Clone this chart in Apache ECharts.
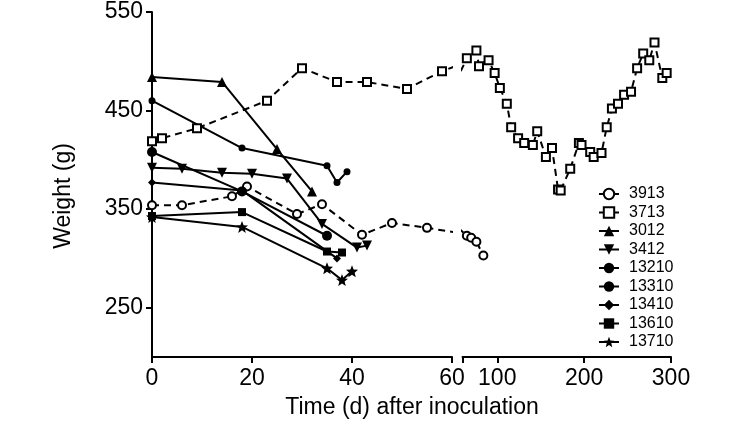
<!DOCTYPE html>
<html>
<head>
<meta charset="utf-8">
<script src="https://cdn.jsdelivr.net/npm/echarts@6/dist/echarts.min.js"></script>
<style>
html, body { margin: 0; padding: 0; background: #fff; }
#chart { width: 746px; height: 425px; }
</style>
</head>
<body>
<div id="chart"></div>
<script>
// [day, weight g]
const d3913 = [[0, 354], [6, 354], [16, 363], [19, 373], [29, 345], [34, 355], [42, 324], [48, 336], [55, 331],
    [65, 323], [70, 321], [76, 317], [84, 303]];
const d3713 = [[0, 419], [2, 422], [9, 432], [23, 460], [30, 493], [37, 479], [43, 479], [51, 472], [58, 490],
    [65, 503], [76, 511], [79, 495], [90, 501], [97, 488], [103, 473], [111, 457], [116, 433], [124, 422],
    [131, 417], [141, 415], [146, 429], [156, 403], [163, 412], [170, 370], [173, 369], [184, 391], [194, 417],
    [197, 415], [207, 408], [211, 403], [220, 407], [226, 433], [232, 452], [239, 457], [246, 466], [254, 469],
    [261, 493], [268, 508], [275, 501], [281, 519], [290, 483], [295, 488]];
const d3012 = [[0, 484], [14, 479], [25, 411], [32, 368]];
const d3412 = [[0, 392], [6, 391], [14, 387], [20, 386], [27, 381], [34, 335], [41, 311], [43, 313]];
const d13210 = [[0, 460], [18, 412], [35, 394], [37, 377], [39, 388]];
const d13310 = [[0, 408], [18, 368], [35, 323]];
const d13410 = [[0, 377], [18, 369], [37, 300]];
const d13610 = [[0, 343], [18, 347], [35, 307], [38, 306]];
const d13710 = [[0, 342], [18, 332], [35, 290], [38, 278], [40, 287]];

const seriesNames = ['3913', '3713', '3012', '3412', '13210', '13310', '13410', '13610', '13710'];
const seriesData = [d3913, d3713, d3012, d3412, d13210, d13310, d13410, d13610, d13710];

const breakDay = 60;
const yTicks = [250, 350, 450, 550];
const rightTicks = [60, 100, 200, 300];
const rightLabels = [100, 200, 300];

const starPath = 'path://M50,0 L63,33 L98,35 L71,57 L80,92 L50,72 L20,92 L29,57 L2,35 L37,33 Z';
const looks = {
    '3913': { symbol: 'emptyCircle', size: 8, dashed: true },
    '3713': { symbol: 'emptyRect', size: 8, dashed: true },
    '3012': { symbol: 'triangle', size: 10 },
    '3412': { symbol: 'triangle', size: 10, rotate: 180 },
    '13210': { symbol: 'circle', size: 7 },
    '13310': { symbol: 'circle', size: 10 },
    '13410': { symbol: 'diamond', size: 8 },
    '13610': { symbol: 'rect', size: 8 },
    '13710': { symbol: starPath, size: 12 }
};

// keep one point past the break on each side so the line runs to the edge
function leftPart(pts) {
    const out = [];
    for (const p of pts) {
        out.push(p);
        if (p[0] > breakDay) break;
    }
    return out;
}
function rightPart(pts) {
    const idx = pts.findIndex(p => p[0] > breakDay);
    if (idx < 0) return [];
    return pts.slice(Math.max(idx - 1, 0));
}

const font = 'Liberation Sans, Arial, sans-serif';
const series = [];
seriesNames.forEach((name, i) => {
    const look = looks[name];
    const base = {
        name: name,
        type: 'line',
        symbol: look.symbol,
        symbolSize: look.size,
        symbolRotate: look.rotate || 0,
        showAllSymbol: true,
        clip: true,
        animation: false,
        itemStyle: { color: '#000', borderColor: '#000', borderWidth: look.symbol.startsWith('empty') ? 2 : 0 },
        lineStyle: { color: '#000', width: 2, type: look.dashed ? [7, 5] : 'solid' }
    };
    series.push(Object.assign({}, base, { xAxisIndex: 0, yAxisIndex: 0, data: leftPart(seriesData[i]) }));
    const right = rightPart(seriesData[i]);
    if (right.length) {
        series.push(Object.assign({}, base, { xAxisIndex: 1, yAxisIndex: 1, data: right }));
    }
});

const axisCommon = {
    type: 'value',
    axisLine: { show: true, onZero: false, lineStyle: { color: '#000', width: 2 } },
    axisTick: { show: true, length: 6, lineStyle: { color: '#000', width: 2 } },
    axisLabel: { color: '#000', fontSize: 23, fontFamily: font },
    splitLine: { show: false }
};

const chart = echarts.init(document.getElementById('chart'));
chart.setOption({
    backgroundColor: '#fff',
    animation: false,
    grid: [
        { left: 152, top: 12, width: 300, height: 345 },
        { left: 462.5, top: 12, width: 208.5, height: 345 }
    ],
    xAxis: [
        Object.assign({}, axisCommon, {
            gridIndex: 0, min: 0, max: breakDay, interval: 20,
            axisLabel: Object.assign({}, axisCommon.axisLabel, { margin: 10 })
        }),
        Object.assign({}, axisCommon, {
            gridIndex: 1, min: breakDay, max: 300,
            axisTick: Object.assign({}, axisCommon.axisTick, { customValues: rightTicks }),
            axisLabel: Object.assign({}, axisCommon.axisLabel, { margin: 10, customValues: rightLabels })
        })
    ],
    yAxis: [
        Object.assign({}, axisCommon, {
            gridIndex: 0, min: 200, max: 550,
            axisTick: Object.assign({}, axisCommon.axisTick, { customValues: yTicks }),
            axisLabel: Object.assign({}, axisCommon.axisLabel, { margin: 9, customValues: yTicks })
        }),
        { type: 'value', gridIndex: 1, min: 200, max: 550, show: false, splitLine: { show: false } }
    ],
    legend: {
        data: seriesNames,
        orient: 'vertical',
        left: 593,
        top: 181,
        itemWidth: 20,
        itemHeight: 13,
        itemGap: 2.5,
        lineStyle: { type: 'solid', width: 2 },
        textStyle: { color: '#000', fontSize: 16, fontFamily: font, padding: [0, 0, 0, 5] }
    },
    graphic: [
        {
            type: 'text', x: 412, y: 408,
            style: { text: 'Time (d) after inoculation', fill: '#000', font: '23px ' + font, textAlign: 'center', textVerticalAlign: 'middle' }
        },
        {
            type: 'text', x: 64, y: 196, rotation: Math.PI / 2,
            style: { text: 'Weight (g)', fill: '#000', font: '23px ' + font, textAlign: 'center', textVerticalAlign: 'middle' }
        }
    ],
    series: series
});
</script>
</body>
</html>
